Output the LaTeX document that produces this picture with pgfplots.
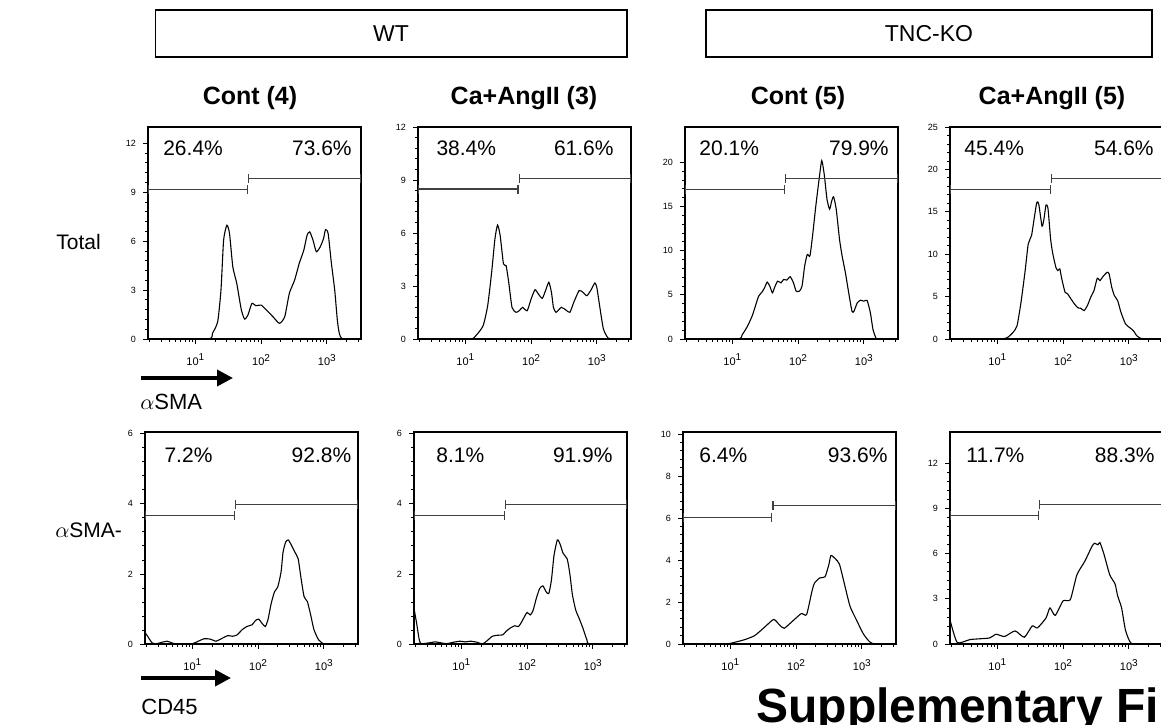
\documentclass[border=0pt]{standalone}
\usepackage{pgfplots}
\pgfplotsset{compat=1.18}
\usepackage{fontspec}
\setmainfont{Liberation Sans}
\usetikzlibrary{arrows.meta}

\newcommand{\tk}[1]{10\raisebox{0.75ex}{\fontsize{5}{5}\selectfont #1}}

\tikzset{
 gate/.style={draw=black!75, line width=0.55pt, {Bar[width=4.5pt]}-{Bar[width=4.5pt]}},
 pct/.style={font=\fontsize{10.5}{12}\selectfont, inner sep=0pt},
}
\pgfplotsset{
 hist/.style={
  scale only axis, width=106.5pt, height=106pt, anchor=south west,
  xmin=0.28, xmax=3.52, ymin=0,
  axis line style={line width=0.6pt},
  tick align=outside, xtick pos=bottom, ytick pos=left,
  xtick={1,2,3}, xticklabels={\tk{1},\tk{2},\tk{3}},
  minor xtick={0.301,0.477,0.602,0.699,0.778,0.845,0.903,0.954,
               1.301,1.477,1.602,1.699,1.778,1.845,1.903,1.954,
               2.301,2.477,2.602,2.699,2.778,2.845,2.903,2.954,
               3.301,3.477},
  minor y tick num=4,
  major tick length=2.5pt, minor tick length=1.4pt,
  every tick/.style={black, line width=0.4pt},
  x tick label style={font=\fontsize{5.5}{6}\selectfont, yshift=-1.5pt},
  y tick label style={font=\fontsize{4.5}{5}\selectfont},
  /pgf/number format/assume math mode=true,
  clip=true,
 },
 curve/.style={black, line width=0.55pt, smooth, tension=0.35, no marks},
}

\begin{document}
\begin{tikzpicture}[x=0.5pt,y=0.5pt]
\useasboundingbox (0,0) rectangle (1161,724);

% header boxes
\draw[line width=0.8pt] (155.5,667) rectangle (627,714);
\node[font=\fontsize{11.5}{13}\selectfont] at (391,690.5) {WT};
\draw[line width=0.8pt] (706,667) rectangle (1152,714);
\node[font=\fontsize{11.5}{13}\selectfont] at (929,690.5) {TNC-KO};

% column titles
\node[font=\bfseries\fontsize{12.5}{14}\selectfont] at (250,626) {Cont (4)};
\node[font=\bfseries\fontsize{12.5}{14}\selectfont] at (524,626) {Ca+AngII (3)};
\node[font=\bfseries\fontsize{12.5}{14}\selectfont] at (798,626) {Cont (5)};
\node[font=\bfseries\fontsize{12.5}{14}\selectfont] at (1052,626) {Ca+AngII (5)};

% row labels
\node[anchor=west, inner sep=0pt, font=\fontsize{10.5}{12}\selectfont] at (56,482) {Total};
\node[anchor=west, inner sep=0pt, font=\fontsize{10.5}{12}\selectfont] at (55,194) {$\alpha$SMA-};

% arrows and axis names
\draw[line width=1.8pt, -{Triangle[length=8pt,width=8pt]}] (141,346) -- (233,346);
\node[anchor=west, inner sep=0pt, font=\fontsize{11}{12}\selectfont] at (140,322) {$\alpha$SMA};
\draw[line width=1.8pt, -{Triangle[length=8pt,width=8pt]}] (141,46) -- (231,46);
\node[anchor=west, inner sep=0pt, font=\fontsize{11}{12}\selectfont] at (141,17) {CD45};

\node[anchor=base west, inner sep=0pt, font=\bfseries\fontsize{24}{26}\selectfont] at (756,2) {Supplementary Figure};

% ---------- Panel 1 ----------
\begin{axis}[hist, at={(74pt,192.5pt)}, ymax=13, ytick={0,3,6,9,12}]
\addplot[curve] coordinates {(0.28,0) (1.19,0) (1.26,0.35) (1.34,1.06) (1.39,3.0) (1.43,6.06) (1.48,6.98) (1.52,6.47) (1.57,4.43) (1.63,3.41) (1.70,1.78) (1.75,1.22) (1.80,1.47) (1.86,2.18) (1.92,2.04) (2.0,2.08) (2.08,1.78) (2.18,1.37) (2.28,0.96) (2.36,1.37) (2.43,2.8) (2.51,3.61) (2.58,4.63) (2.65,5.45) (2.70,6.37) (2.74,6.57) (2.79,6.06) (2.84,5.35) (2.90,5.65) (2.95,6.16) (2.98,6.71) (3.02,6.47) (3.07,4.63) (3.12,3.0) (3.16,1.16) (3.19,0.35) (3.24,0) (3.52,0)};
\draw[gate] (axis cs:0.28,9.18) -- (axis cs:1.807,9.18);
\draw[gate] (axis cs:1.807,9.86) -- (axis cs:3.52,9.86);
\node[pct, anchor=west] at (rel axis cs:0.07,0.9) {26.4\%};
\node[pct, anchor=east] at (rel axis cs:0.958,0.9) {73.6\%};
\end{axis}

% ---------- Panel 2 ----------
\begin{axis}[hist, at={(209pt,192.5pt)}, ymax=12, ytick={0,3,6,9,12}]
\addplot[curve] coordinates {(0.28,0) (1.06,0) (1.16,0.19) (1.27,0.75) (1.34,1.89) (1.40,3.77) (1.45,5.66) (1.49,6.45) (1.53,5.85) (1.58,4.25) (1.62,4.15) (1.66,3.21) (1.71,1.79) (1.77,1.51) (1.82,1.60) (1.87,1.79) (1.94,1.60) (2.0,2.26) (2.06,2.79) (2.11,2.55) (2.17,2.30) (2.22,2.74) (2.27,3.21) (2.31,2.64) (2.34,1.79) (2.38,1.51) (2.46,1.79) (2.53,1.64) (2.59,1.51) (2.65,2.08) (2.73,2.74) (2.79,2.64) (2.85,2.45) (2.92,2.83) (2.97,3.17) (3.0,2.92) (3.05,1.70) (3.10,0.57) (3.17,0.06) (3.25,0) (3.52,0)};
\draw[gate] (axis cs:0.28,8.49) -- (axis cs:1.81,8.49);
\draw[gate] (axis cs:1.81,9.11) -- (axis cs:3.52,9.11);
\node[pct, anchor=west] at (rel axis cs:0.085,0.9) {38.4\%};
\node[pct, anchor=east] at (rel axis cs:0.92,0.9) {61.6\%};
\end{axis}

% ---------- Panel 3 ----------
\begin{axis}[hist, at={(342.5pt,192.5pt)}, ymax=24, ytick={0,5,10,15,20}]
\addplot[curve] coordinates {(0.28,0) (1.075,0) (1.15,0.49) (1.23,1.44) (1.30,2.58) (1.35,3.71) (1.40,4.85) (1.45,5.30) (1.49,5.80) (1.53,6.44) (1.57,5.98) (1.61,5.23) (1.65,5.98) (1.69,6.55) (1.74,6.36) (1.78,6.74) (1.83,6.67) (1.88,7.05) (1.93,6.36) (1.97,5.42) (2.02,5.42) (2.06,5.98) (2.10,8.26) (2.14,9.58) (2.18,9.39) (2.22,11.67) (2.27,15.08) (2.32,18.1) (2.36,20.2) (2.40,18.5) (2.44,15.8) (2.48,14.7) (2.51,15.6) (2.54,16.1) (2.58,14.7) (2.63,11.3) (2.67,9.39) (2.72,7.5) (2.77,5.23) (2.82,3.14) (2.85,3.14) (2.90,4.09) (2.95,4.39) (3.0,4.28) (3.05,4.36) (3.10,2.95) (3.14,1.06) (3.19,0.04) (3.25,0) (3.52,0)};
\draw[gate] (axis cs:0.28,16.9) -- (axis cs:1.80,16.9);
\draw[gate] (axis cs:1.80,18.2) -- (axis cs:3.52,18.2);
\node[pct, anchor=west] at (rel axis cs:0.066,0.9) {20.1\%};
\node[pct, anchor=east] at (rel axis cs:0.958,0.9) {79.9\%};
\end{axis}

% ---------- Panel 4 ----------
\begin{axis}[hist, at={(475pt,192.5pt)}, ymax=25, ytick={0,5,10,15,20,25}]
\addplot[curve] coordinates {(0.28,0) (0.95,0) (1.10,0.05) (1.16,0.2) (1.24,0.79) (1.30,1.57) (1.36,4.33) (1.42,7.87) (1.47,11.2) (1.52,12.2) (1.56,14.2) (1.60,16.1) (1.63,15.9) (1.68,13.3) (1.71,14.2) (1.74,15.8) (1.77,15.4) (1.81,11.8) (1.84,10.2) (1.89,8.46) (1.92,8.07) (1.95,8.27) (1.98,7.09) (2.03,5.51) (2.07,5.31) (2.12,4.72) (2.18,4.06) (2.23,3.66) (2.27,3.62) (2.32,3.35) (2.37,3.94) (2.42,4.92) (2.47,5.71) (2.52,7.17) (2.56,6.89) (2.61,7.4) (2.67,7.87) (2.70,7.68) (2.74,6.1) (2.78,5.12) (2.83,4.53) (2.88,3.15) (2.95,1.77) (3.02,1.3) (3.07,0.98) (3.12,0.39) (3.18,0.08) (3.24,0) (3.52,0)};
\draw[gate] (axis cs:0.28,17.6) -- (axis cs:1.82,17.6);
\draw[gate] (axis cs:1.82,18.9) -- (axis cs:3.52,18.9);
\node[pct, anchor=west] at (rel axis cs:0.066,0.9) {45.4\%};
\node[pct, anchor=east] at (rel axis cs:0.958,0.9) {54.6\%};
\end{axis}

% ---------- Panel 5 ----------
\begin{axis}[hist, at={(72.5pt,40pt)}, ymax=6.05, ytick={0,2,4,6}]
\addplot[curve] coordinates {(0.28,0.33) (0.32,0.22) (0.39,0.03) (0.46,0.01) (0.54,0.05) (0.62,0.08) (0.69,0.03) (0.77,0) (1.0,0.01) (1.09,0.08) (1.18,0.15) (1.27,0.14) (1.36,0.08) (1.43,0.14) (1.54,0.24) (1.61,0.22) (1.68,0.26) (1.76,0.41) (1.83,0.5) (1.91,0.55) (1.96,0.67) (2.01,0.71) (2.06,0.59) (2.11,0.5) (2.15,0.69) (2.20,1.16) (2.25,1.49) (2.30,1.63) (2.35,2.06) (2.38,2.62) (2.42,2.91) (2.46,2.97) (2.51,2.81) (2.56,2.62) (2.61,2.43) (2.65,1.92) (2.70,1.35) (2.75,1.21) (2.80,0.83) (2.85,0.41) (2.92,0.12) (2.99,0.01) (3.05,0) (3.52,0)};
\draw[gate] (axis cs:0.28,3.66) -- (axis cs:1.646,3.66);
\draw[gate] (axis cs:1.646,3.97) -- (axis cs:3.52,3.97);
\node[pct, anchor=west] at (rel axis cs:0.09,0.89) {7.2\%};
\node[pct, anchor=east] at (rel axis cs:0.97,0.89) {92.8\%};
\end{axis}

% ---------- Panel 6 ----------
\begin{axis}[hist, at={(207pt,40pt)}, ymax=6.05, ytick={0,2,4,6}]
\addplot[curve] coordinates {(0.28,1.02) (0.32,0.59) (0.36,0.12) (0.39,0.01) (0.50,0.03) (0.60,0.06) (0.70,0.03) (0.78,0.01) (0.88,0.05) (0.98,0.08) (1.06,0.06) (1.14,0.08) (1.24,0.05) (1.32,0) (1.39,0.09) (1.47,0.22) (1.55,0.25) (1.63,0.26) (1.68,0.36) (1.74,0.45) (1.81,0.52) (1.87,0.5) (1.92,0.64) (1.96,0.78) (2.0,0.9) (2.05,0.83) (2.09,0.95) (2.14,1.30) (2.19,1.58) (2.24,1.66) (2.29,1.49) (2.33,1.44) (2.37,1.82) (2.41,2.53) (2.46,2.97) (2.50,2.86) (2.55,2.58) (2.61,2.43) (2.65,2.01) (2.69,1.40) (2.74,0.97) (2.79,0.74) (2.85,0.45) (2.91,0.12) (2.96,0) (3.52,0)};
\draw[gate] (axis cs:0.28,3.66) -- (axis cs:1.66,3.66);
\draw[gate] (axis cs:1.66,3.97) -- (axis cs:3.52,3.97);
\node[pct, anchor=west] at (rel axis cs:0.103,0.89) {8.1\%};
\node[pct, anchor=east] at (rel axis cs:0.934,0.89) {91.9\%};
\end{axis}

% ---------- Panel 7 ----------
\begin{axis}[hist, at={(341.5pt,40pt)}, ymax=10.1, ytick={0,2,4,6,8,10}]
\addplot[curve] coordinates {(0.28,0) (0.95,0) (1.0,0.03) (1.21,0.2) (1.37,0.4) (1.52,0.8) (1.66,1.17) (1.75,0.9) (1.82,0.75) (1.95,1.1) (2.08,1.45) (2.16,1.4) (2.24,2.5) (2.28,2.9) (2.36,3.15) (2.44,3.2) (2.50,3.8) (2.53,4.22) (2.60,4.05) (2.66,3.8) (2.74,2.8) (2.82,1.8) (2.91,1.2) (3.02,0.5) (3.12,0.1) (3.21,0) (3.52,0)};
\draw[gate] (axis cs:0.28,6.02) -- (axis cs:1.64,6.02);
\draw[gate] (axis cs:1.64,6.59) -- (axis cs:3.52,6.59);
\node[pct, anchor=west] at (rel axis cs:0.075,0.89) {6.4\%};
\node[pct, anchor=east] at (rel axis cs:0.962,0.89) {93.6\%};
\end{axis}

% ---------- Panel 8 ----------
\begin{axis}[hist, at={(475pt,40pt)}, ymax=14.1, ytick={0,3,6,9,12}]
\addplot[curve] coordinates {(0.28,1.6) (0.39,0.1) (0.59,0.3) (0.88,0.4) (0.98,0.65) (1.11,0.5) (1.27,0.87) (1.41,0.45) (1.53,1.2) (1.61,1.07) (1.74,1.73) (1.80,2.4) (1.88,1.9) (2.00,2.87) (2.11,2.95) (2.21,4.6) (2.33,5.5) (2.44,6.5) (2.48,6.7) (2.53,6.6) (2.56,6.75) (2.62,6.0) (2.71,4.6) (2.79,4.0) (2.83,3.2) (2.89,2.4) (2.95,0.9) (3.03,0.07) (3.17,0) (3.52,0)};
\draw[gate] (axis cs:0.28,8.53) -- (axis cs:1.63,8.53);
\draw[gate] (axis cs:1.63,9.27) -- (axis cs:3.52,9.27);
\node[pct, anchor=west] at (rel axis cs:0.075,0.89) {11.7\%};
\node[pct, anchor=east] at (rel axis cs:0.962,0.89) {88.3\%};
\end{axis}

\end{tikzpicture}
\end{document}
